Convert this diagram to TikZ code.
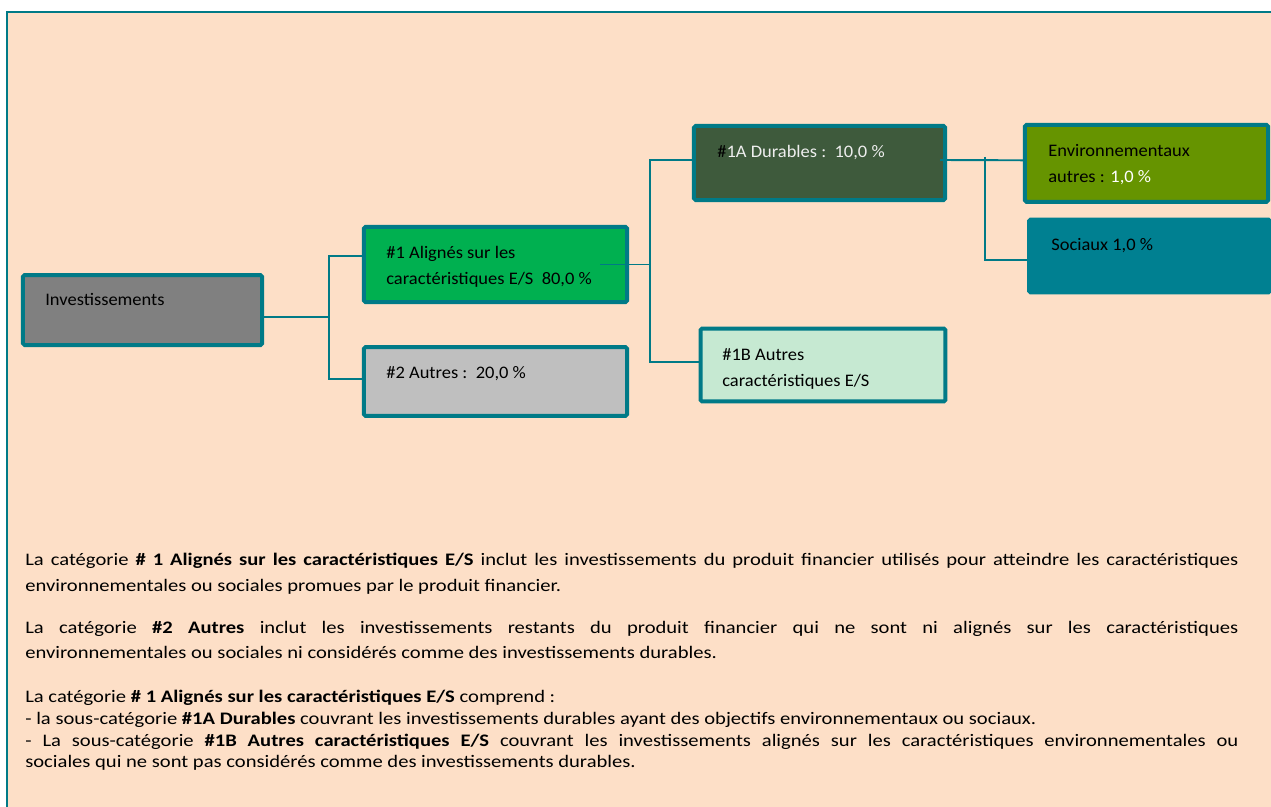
\documentclass[tikz,border=0pt]{standalone}
\usepackage{fontspec}
\setmainfont{Carlito}
\newfontfamily\boxfont{Carlito}[FakeStretch=1.05]
\newfontfamily\notefont{Carlito}[FakeStretch=1.17]

\definecolor{peach}{RGB}{253,223,199}
\definecolor{esgteal}{RGB}{0,122,135}
\definecolor{gris}{RGB}{128,128,128}
\definecolor{grisclair}{RGB}{191,191,191}
\definecolor{vert}{RGB}{0,176,80}
\definecolor{vertfonce}{RGB}{62,90,60}
\definecolor{vertpale}{RGB}{198,233,210}
\definecolor{olive}{RGB}{102,148,0}
\definecolor{bleusoc}{RGB}{0,128,145}
\definecolor{blanccasse}{RGB}{238,238,238}

\tikzstyle{block} = [rectangle, rounded corners=1pt, draw=esgteal, line width=2.5pt, inner sep=0pt]
\tikzstyle{link} = [draw=esgteal, line width=1.2pt]
\tikzstyle{blocktext} = [anchor=base west, inner sep=0pt, align=left, font=\boxfont\fontsize{11}{16}\selectfont]
\tikzstyle{para} = [anchor=base west, inner sep=0pt, text width=758.1pt, align=justify]

\begin{document}
\begin{tikzpicture}[x=0.625pt, y=-0.625pt]
    \useasboundingbox (0,0) rectangle (1271,807);
    \fill[peach] (7,12) rectangle (1271,807);
    \draw[esgteal, line width=1.25pt] (7,807) -- (7,12.5) -- (1271,12.5);
    % boxes
    \node (inv) [block, fill=gris, minimum width=149.4pt, minimum height=43.75pt] at (142.5,310) {};
    \node (al) [block, fill=vert, minimum width=164.4pt, minimum height=46.9pt] at (495.5,264.5) {};
    \node (au) [block, fill=grisclair, minimum width=164.4pt, minimum height=43.1pt] at (495.5,381.5) {};
    \node (dur) [block, fill=vertfonce, minimum width=156.9pt, minimum height=46.25pt] at (819.5,163) {};
    \node (aut) [block, fill=vertpale, minimum width=153.1pt, minimum height=45.6pt] at (823,365) {};
    \node (env) [block, fill=olive, minimum width=151.9pt, minimum height=48.1pt] at (1146.5,163.3) {};
    \node (soc) [block, draw=bleusoc, fill=bleusoc, minimum width=150.6pt, minimum height=45.6pt] at (1149.5,256) {};
    % connectors
    \coordinate (j1) at (329,317);
    \coordinate (j2) at (650,264.5);
    \coordinate (j3) at (985,157);
    \draw [link] (inv.east |- j1) -- (j1);
    \draw [link] ([shift={(0,-8.5)}]al.west) -| (j1) |- ([shift={(0,-2.5)}]au.west);
    \draw [link] ([shift={(-29,0)}]al.east) -- (j2);
    \draw [link] ([shift={(0,-3)}]dur.west) -| (j2) |- ([shift={(0,-3)}]aut.west);
    \draw [link] ([shift={(-7,-3)}]dur.east) -- ([shift={(0,-3)}]env.west);
    \draw [link] (j3) |- ([shift={(0,4)}]soc.west);
    % box texts (base = last line)
    \node (invt) [blocktext] at (45,305) {Investissements};
    \node (alt) [blocktext] at (386,284) {\#1 Alignés sur les\\caractéristiques E/S~~80,0 \%};
    \node (aut2) [blocktext] at (386,378.3) {\#2 Autres :~~20,0 \%};
    \node (durt) [blocktext, text=blanccasse] at (717,157.3) {\textcolor{black}{\#}1A Durables :~~10,0 \%};
    \node (autt) [blocktext] at (722,386) {\#1B Autres\\caractéristiques E/S};
    \node (envt) [blocktext] at (1048,182.3) {Environnementaux\\autres : \textcolor{white}{1,0 \%}};
    \node (soct) [blocktext] at (1051,250) {Sociaux 1,0 \%};
    % notes
    \node (p1) [para, font=\notefont\fontsize{11}{16.25}\selectfont] at (25,565) {La catégorie \textbf{\# 1 Alignés sur les caractéristiques E/S} inclut les investissements du produit financier utilisés pour atteindre les caractéristiques\linebreak environnementales ou sociales promues par le produit financier.};
    \node (p2) [para, font=\notefont\fontsize{11}{15.6}\selectfont] at (25,633.3) {La catégorie \textbf{\#2 Autres} inclut les investissements restants du produit financier qui ne sont ni alignés sur les caractéristiques\linebreak environnementales ou sociales ni considérés comme des investissements durables.};
    \node (p3) [para, font=\notefont\fontsize{11}{13.56}\selectfont] at (25,702.7) {La catégorie \textbf{\# 1 Alignés sur les caractéristiques E/S} comprend :\\- la sous-catégorie \textbf{\#1A Durables} couvrant les investissements durables ayant des objectifs environnementaux ou sociaux.\\- La sous-catégorie \textbf{\#1B Autres caractéristiques E/S} couvrant les investissements alignés sur les caractéristiques environnementales ou\linebreak sociales qui ne sont pas considérés comme des investissements durables.};
\end{tikzpicture}
\end{document}
